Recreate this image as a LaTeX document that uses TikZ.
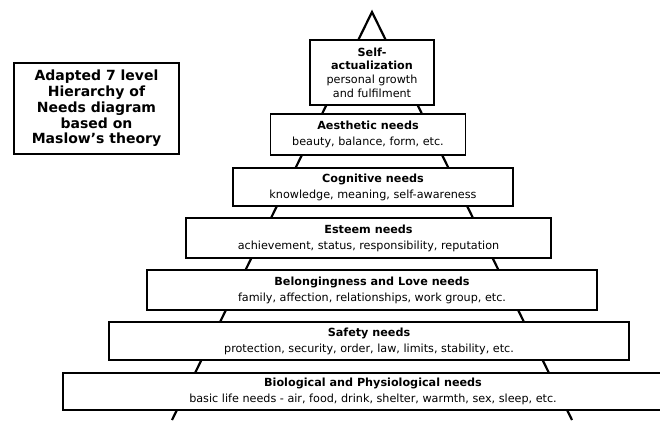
\documentclass[tikz,border=0pt]{standalone}
\usepackage{fontspec}
\setmainfont{DejaVu Sans}
\begin{document}
\begin{tikzpicture}[x=1pt,y=-1pt,
  box/.style={draw=black,line width=1.8pt,fill=white,rectangle,inner sep=0pt,align=center,font=\fontsize{11.2}{16}\selectfont},
  tri/.style={draw=black,line width=2.2pt,line join=miter}]
\useasboundingbox (0,0) rectangle (660,420);
\clip (0,0) rectangle (660,420);
\coordinate (apex) at (372,12);
\coordinate (baseL) at (172,420);
\coordinate (baseR) at (572,420);
\draw[tri] (baseL) -- (apex) -- (baseR);
\node[box,minimum width=124pt,minimum height=65pt,font=\fontsize{11.2}{13.6}\selectfont] (self) at (372,72.5)
  {\textbf{Self-}\\\textbf{actualization}\\personal growth\\and fulfilment};
\node[box,minimum width=195pt,minimum height=41pt] (aest) at (368,134.5)
  {\textbf{Aesthetic needs}\\beauty, balance, form, etc.};
\node[box,minimum width=280pt,minimum height=38pt] (cog) at (373,187)
  {\textbf{Cognitive needs}\\knowledge, meaning, self-awareness};
\node[box,minimum width=365pt,minimum height=40pt] (est) at (368.5,238)
  {\textbf{Esteem needs}\\achievement, status, responsibility, reputation};
\node[box,minimum width=450pt,minimum height=40pt] (belong) at (372,290)
  {\textbf{Belongingness and Love needs}\\family, affection, relationships, work group, etc.};
\node[box,minimum width=520pt,minimum height=38pt] (safe) at (369,341)
  {\textbf{Safety needs}\\protection, security, order, law, limits, stability, etc.};
\node[box,minimum width=620pt,minimum height=37pt] (bio) at (373,391.5)
  {\textbf{Biological and Physiological needs}\\basic life needs - air, food, drink, shelter, warmth, sex, sleep, etc.};
\node[box,minimum width=165pt,minimum height=91pt,font=\bfseries\fontsize{14}{15.8}\selectfont] (title) at (96.5,108.5)
  {Adapted 7 level\\Hierarchy of\\Needs diagram\\based on\\Maslow's theory};
\end{tikzpicture}
\end{document}
